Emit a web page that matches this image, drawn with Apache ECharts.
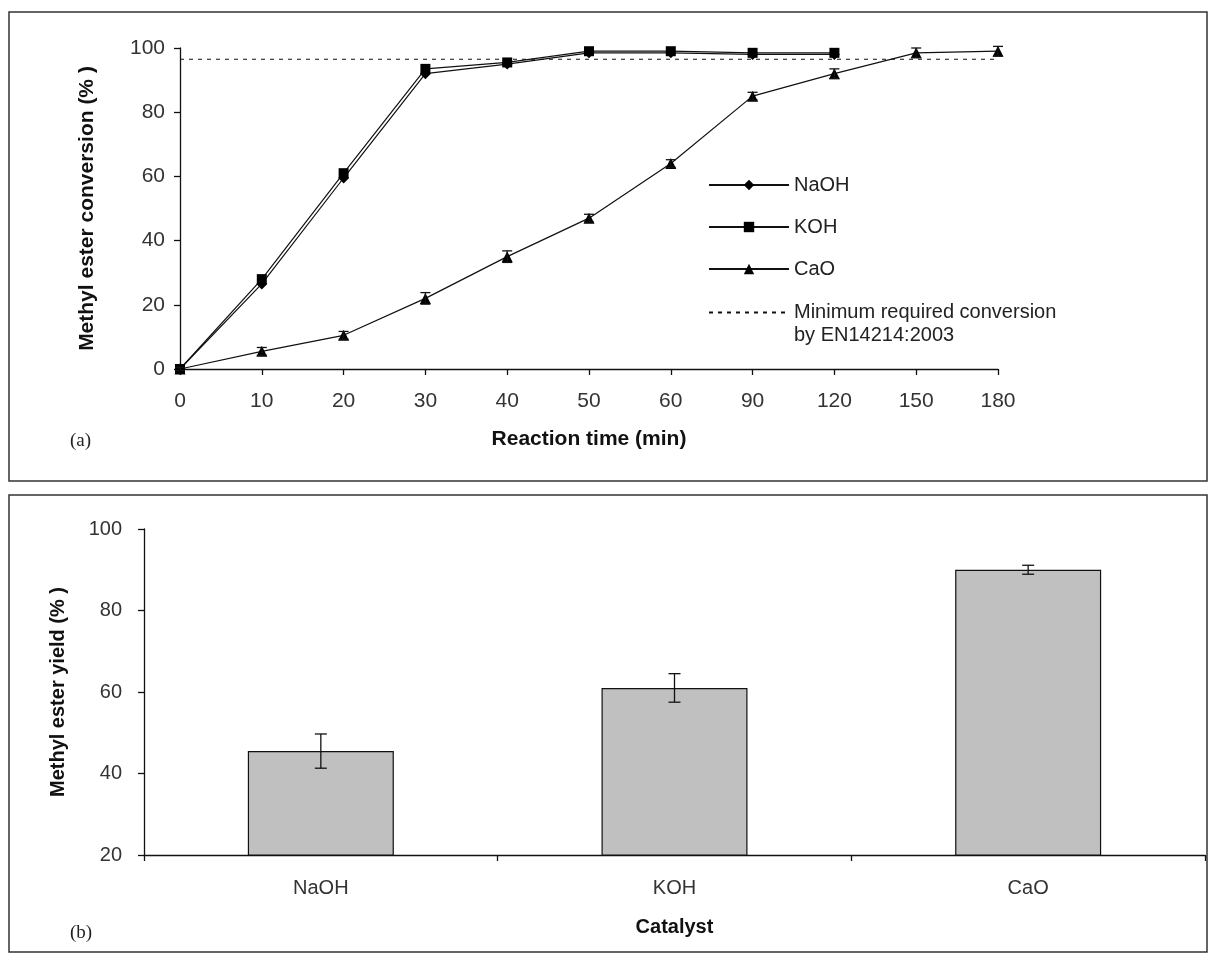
<!DOCTYPE html>
<html>
<head>
<meta charset="utf-8">
<script src="https://cdn.jsdelivr.net/npm/echarts@6/dist/echarts.min.js"></script>
<style>
html,body{margin:0;padding:0;background:#fff}
#main{width:1216px;height:960px}
</style>
</head>
<body>
<div id="main"></div>
<script>
// (a) conversion vs reaction time
const timeLabels = ['0','10','20','30','40','50','60','90','120','150','180'];
const naohConv = [0, 26.5, 59.5, 92, 95, 98.5, 98.5, 98, 98];
const kohConv = [0, 28, 61, 93.5, 95.5, 99, 99, 98.5, 98.5];
const caoConv = [0, 5.5, 10.5, 22, 35, 47, 64, 85, 92, 98.5, 99];
const caoErr = [0.5, 1.2, 1.2, 1.8, 1.8, 1.2, 1.2, 1.2, 1.5, 1.5, 1.5];
const minConv = 96.5;

// (b) yield per catalyst
const catalysts = ['NaOH', 'KOH', 'CaO'];
const yieldVals = [45.5, 61, 90];
const yieldErr = [4.2, 3.5, 1.1];

const font = 'Liberation Sans, Arial, sans-serif';
const ink = '#111';

function errBars(capW) {
  return function (params, api) {
    const x = api.value(0);
    const p1 = api.coord([x, api.value(1)]);
    const p2 = api.coord([x, api.value(2)]);
    const st = { stroke: ink, lineWidth: 1.3, fill: null };
    return {
      type: 'group',
      children: [
        { type: 'line', shape: { x1: p1[0], y1: p1[1], x2: p2[0], y2: p2[1] }, style: st },
        { type: 'line', shape: { x1: p1[0] - capW, y1: p1[1], x2: p1[0] + capW, y2: p1[1] }, style: st },
        { type: 'line', shape: { x1: p2[0] - capW, y1: p2[1], x2: p2[0] + capW, y2: p2[1] }, style: st }
      ]
    };
  };
}

const caoErrData = caoConv.map((v, i) => [i, v - caoErr[i], v + caoErr[i]]);
const yieldErrData = yieldVals.map((v, i) => [i, v - yieldErr[i], v + yieldErr[i]]);
const minLine = timeLabels.map(() => minConv);
const minName = 'Minimum required conversion\nby EN14214:2003';

const axisLine = { show: true, lineStyle: { color: ink, width: 1.3 } };
const axisTick = { show: true, length: 6, lineStyle: { color: ink, width: 1.3 } };
const labelA = { color: '#333', fontSize: 21, fontFamily: font };
const labelB = { color: '#333', fontSize: 20, fontFamily: font };
const nameA = { color: ink, fontSize: 21, fontWeight: 'bold', fontFamily: font };
const nameB = { color: ink, fontSize: 20, fontWeight: 'bold', fontFamily: font };

let chart = echarts.init(document.getElementById('main'));
let option = {
  backgroundColor: '#fff',
  animation: false,
  textStyle: { fontFamily: font },
  grid: [
    { left: 180, right: 218, top: 48, bottom: 591 },
    { left: 144, right: 11, top: 529, bottom: 105 }
  ],
  legend: [
    {
      data: ['NaOH', 'KOH', 'CaO'],
      orient: 'vertical', left: 703, top: 169,
      itemWidth: 80, itemHeight: 13, itemGap: 20,
      selectedMode: false,
      textStyle: { color: '#222', fontSize: 20, lineHeight: 22, fontFamily: font }
    },
    {
      data: [minName],
      orient: 'vertical', left: 703, top: 273,
      itemWidth: 80, itemHeight: 13,
      selectedMode: false,
      itemStyle: { opacity: 0 },
      formatter: (name) => ' \n' + name,
      textStyle: { color: '#222', fontSize: 20, lineHeight: 23, fontFamily: font }
    }
  ],
  xAxis: [
    {
      type: 'category', gridIndex: 0, data: timeLabels, boundaryGap: false,
      axisLine: axisLine, axisTick: axisTick,
      axisLabel: Object.assign({ margin: 22 }, labelA),
      name: 'Reaction time (min)', nameLocation: 'middle', nameGap: 60,
      nameTextStyle: nameA
    },
    {
      type: 'category', gridIndex: 1, data: catalysts,
      axisLine: axisLine, axisTick: axisTick,
      axisLabel: Object.assign({ margin: 23 }, labelB),
      name: 'Catalyst', nameLocation: 'middle', nameGap: 62,
      nameTextStyle: nameB
    }
  ],
  yAxis: [
    {
      type: 'value', gridIndex: 0, min: 0, max: 100, interval: 20,
      axisLine: axisLine, axisTick: axisTick, splitLine: { show: false },
      axisLabel: Object.assign({ margin: 15 }, labelA),
      name: 'Methyl ester conversion (% )', nameLocation: 'middle', nameGap: 82,
      nameTextStyle: nameA
    },
    {
      type: 'value', gridIndex: 1, min: 20, max: 100, interval: 20,
      axisLine: axisLine, axisTick: axisTick, splitLine: { show: false },
      axisLabel: Object.assign({ margin: 22 }, labelB),
      name: 'Methyl ester yield (% )', nameLocation: 'middle', nameGap: 76,
      nameTextStyle: nameB
    }
  ],
  series: [
    {
      name: minName, type: 'line', xAxisIndex: 0, yAxisIndex: 0,
      data: minLine, symbol: 'none', z: 1,
      color: ink,
      lineStyle: { color: ink, width: 1.2, type: [4, 5] }
    },
    {
      name: 'NaOH', type: 'line', xAxisIndex: 0, yAxisIndex: 0,
      data: naohConv, symbol: 'diamond', symbolSize: 11, z: 3,
      color: '#000', itemStyle: { color: '#000' },
      lineStyle: { color: ink, width: 1.2 }
    },
    {
      name: 'KOH', type: 'line', xAxisIndex: 0, yAxisIndex: 0,
      data: kohConv, symbol: 'rect', symbolSize: 10, z: 3,
      color: '#000', itemStyle: { color: '#000' },
      lineStyle: { color: ink, width: 1.2 }
    },
    {
      name: 'CaO', type: 'line', xAxisIndex: 0, yAxisIndex: 0,
      data: caoConv, symbol: 'triangle', symbolSize: 11, z: 3,
      color: '#000', itemStyle: { color: '#000' },
      lineStyle: { color: ink, width: 1.2 }
    },
    {
      type: 'custom', xAxisIndex: 0, yAxisIndex: 0, z: 4,
      renderItem: errBars(5), data: caoErrData,
      encode: { x: 0, y: [1, 2] }
    },
    {
      type: 'bar', xAxisIndex: 1, yAxisIndex: 1,
      data: yieldVals, barWidth: 146,
      itemStyle: { color: '#c0c0c0', borderColor: ink, borderWidth: 1.2 }
    },
    {
      type: 'custom', xAxisIndex: 1, yAxisIndex: 1, z: 4,
      renderItem: errBars(6), data: yieldErrData,
      encode: { x: 0, y: [1, 2] }
    }
  ],
  graphic: [
    { type: 'rect', shape: { x: 9, y: 12, width: 1198, height: 469 },
      style: { fill: null, stroke: '#333', lineWidth: 1.5 }, silent: true },
    { type: 'rect', shape: { x: 9, y: 495, width: 1198, height: 457 },
      style: { fill: null, stroke: '#333', lineWidth: 1.5 }, silent: true },
    { type: 'text', left: 70, top: 432,
      style: { text: '(a)', font: '19px "Liberation Serif", serif', fill: '#222' } },
    { type: 'text', left: 70, top: 924,
      style: { text: '(b)', font: '19px "Liberation Serif", serif', fill: '#222' } }
  ]
};
chart.setOption(option, true);
window.addEventListener('resize', function () {
  chart.resize();
});
</script>
</body>
</html>
